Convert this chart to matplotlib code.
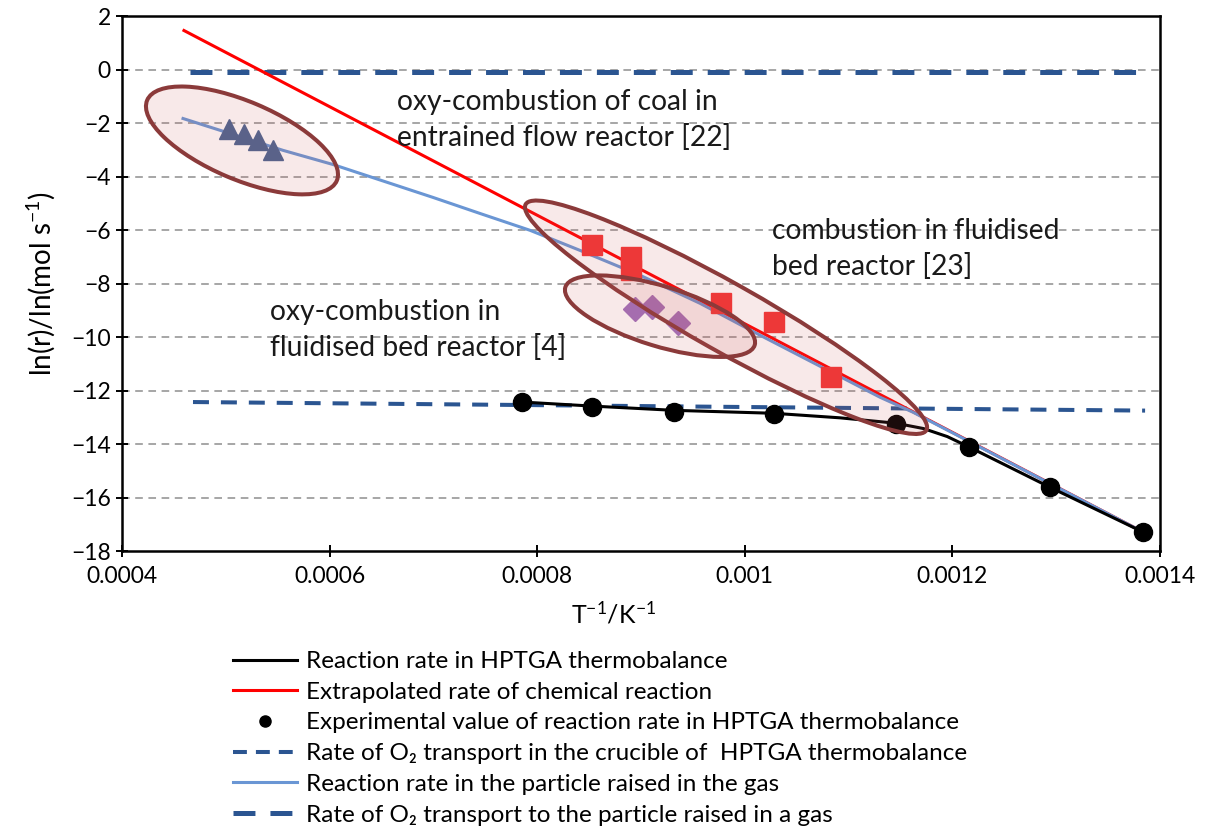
import matplotlib
matplotlib.use('Agg')
import matplotlib.pyplot as plt
from matplotlib.patches import Ellipse
from matplotlib.lines import Line2D
from matplotlib.transforms import ScaledTranslation
from matplotlib.ticker import FuncFormatter

plt.rcParams['font.family'] = ['Lato', 'DejaVu Sans']
plt.rcParams['mathtext.fontset'] = 'custom'
plt.rcParams['mathtext.rm'] = 'Lato'
plt.rcParams['mathtext.it'] = 'Lato:italic'
plt.rcParams['lines.scale_dashes'] = False

# ---------------- data ----------------
# experimental HPTGA points
exp_x = [0.0007855, 0.0008525, 0.0009318, 0.0010277, 0.0011453, 0.0012160, 0.0012937, 0.0013836]
exp_y = [-12.43, -12.62, -12.81, -12.88, -13.25, -14.11, -15.61, -17.29]

# reaction rate in HPTGA thermobalance (black curve)
tga_x = [0.0007855, 0.0008525, 0.0009318, 0.0010277, 0.0010917, 0.0011453, 0.0011720, 0.0011950, 0.0012160, 0.0012937, 0.0013836]
tga_y = [-12.43, -12.58, -12.74, -12.85, -13.02, -13.22, -13.42, -13.72, -14.11, -15.61, -17.29]

# extrapolated chemical reaction rate (red line)
chem_x = [0.0004597, 0.0013836]
chem_y = [1.46, -17.29]

# reaction rate in the particle raised in the gas (light blue)
part_x = [0.0004588, 0.0005551, 0.0006033, 0.0006996, 0.0007449, 0.0007931, 0.0008412,
          0.0008990, 0.0009569, 0.0010146, 0.0010724, 0.0011302, 0.0011620, 0.0013836]
part_y = [-1.83, -3.02, -3.55, -4.78, -5.38, -6.01, -6.76,
          -7.69, -8.74, -9.93, -11.09, -12.25, -12.81, -17.29]

# O2 transport in crucible of HPTGA (thin dashed)
cruc_x = [0.0004684, 0.0013856]
cruc_y = [-12.43, -12.75]

# O2 transport to particle raised in gas (bold dashed)
gas_x = [0.0004655, 0.0013856]
gas_y = [-0.10, -0.10]

# literature data
entr_x = [0.0005031, 0.0005175, 0.0005310, 0.0005455]
entr_y = [-2.24, -2.42, -2.65, -3.02]
fb_x = [0.0008528, 0.0008904, 0.0008904, 0.0009775, 0.0010277, 0.0010831]
fb_y = [-6.57, -7.02, -7.50, -8.74, -9.45, -11.50]
oxyfb_x = [0.0008942, 0.0009106, 0.0009356]
oxyfb_y = [-8.96, -8.88, -9.48]

x_ticks = [0.0004, 0.0006, 0.0008, 0.0010, 0.0012, 0.0014]
y_ticks = list(range(-18, 3, 2))

legend_labels = [
    'Reaction rate in HPTGA thermobalance',
    'Extrapolated rate of chemical reaction',
    'Experimental value of reaction rate in HPTGA thermobalance',
    'Rate of O\u2082 transport in the crucible of  HPTGA thermobalance',
    'Reaction rate in the particle raised in the gas',
    'Rate of O\u2082 transport to the particle raised in a gas',
]

# ---------------- style ----------------
C_DARK = '#2B5591'
C_LBLUE = '#6A96D4'
C_ELL_EDGE = '#8B3A3A'
C_ELL_FACE = (0.80, 0.35, 0.35, 0.13)

fig = plt.figure(figsize=(12.09, 8.32), dpi=100)
ax = fig.add_axes([0.1009, 0.3377, 0.8586, 0.6430])

ax.set_xlim(0.0004, 0.0014)
ax.set_ylim(-18, 2)

ax.set_yticks(y_ticks)
ax.set_xticks(x_ticks)
ax.xaxis.set_major_formatter(FuncFormatter(lambda v, p: '%g' % round(v, 6)))
ax.yaxis.set_major_formatter(FuncFormatter(lambda v, p: ('%d' % v).replace('-', '\u2212')))

for yv in y_ticks[1:-1]:
    ax.axhline(yv, color='#A6A6A6', lw=1.4, dashes=(5.5, 4.0), zorder=0)

ax.plot(gas_x, gas_y, color=C_DARK, lw=3.6, dashes=(15.8, 10.8), zorder=2)
ax.plot(cruc_x, cruc_y, color=C_DARK, lw=2.9, dashes=(11.5, 8.6), zorder=2)
ax.plot(chem_x, chem_y, color='#FF0000', lw=2.2, zorder=3)
ax.plot(part_x, part_y, color=C_LBLUE, lw=2.2, zorder=3)
ax.plot(tga_x, tga_y, color='black', lw=2.2, zorder=3)
ax.plot(exp_x, exp_y, 'o', color='black', ms=13, zorder=4)
ax.plot(entr_x, entr_y, '^', color='#4A6491', ms=14, zorder=4)
ax.plot(fb_x, fb_y, 's', color='#F23434', ms=14, zorder=4)
ax.plot(oxyfb_x, oxyfb_y, 'D', color='#A070BC', ms=12, zorder=4)


def add_ellipse(cx, cy, w_px, h_px, ang):
    tr = fig.dpi_scale_trans + ScaledTranslation(cx, cy, ax.transData)
    e = Ellipse((0, 0), w_px / 100.0, h_px / 100.0, angle=ang, transform=tr,
                facecolor=C_ELL_FACE, edgecolor=C_ELL_EDGE, lw=2.9, zorder=5)
    ax.add_artist(e)


add_ellipse(0.0005156, -2.65, 206, 78, -23)
add_ellipse(0.0009819, -9.26, 460, 68, -29.4)
add_ellipse(0.0009183, -9.22, 198, 60, -17)

txt_kw = dict(fontsize=20.3, color='#1a1a1a', ha='left', va='center', linespacing=1.42, zorder=6)
ax.text(0.000665, -1.88, 'oxy-combustion of coal in\nentrained flow reactor [22]', **txt_kw)
ax.text(0.0010262, -6.70, 'combustion in fluidised\nbed reactor [23]', **txt_kw)
ax.text(0.0005426, -9.74, 'oxy-combustion in\nfluidised bed reactor [4]', **txt_kw)

ax.tick_params(axis='both', which='major', direction='inout', length=9, width=1.4,
               labelsize=16.5, colors='black')
ax.tick_params(axis='x', pad=6)
for s in ax.spines.values():
    s.set_linewidth(1.8)
    s.set_color('black')

ax.set_ylabel('ln(r)/ln(mol s$^{\u22121}$)', fontsize=20, labelpad=10)
fig.text(614 / 1209, 1 - 614 / 832, 'T$^{\u22121}$/K$^{\u22121}$', fontsize=18,
         ha='center', va='center')

handles = [
    Line2D([], [], color='black', lw=2.2),
    Line2D([], [], color='#FF0000', lw=2.2),
    Line2D([], [], color='black', marker='o', ls='none', ms=8),
    Line2D([], [], color=C_DARK, lw=2.9, dashes=(10, 6.5)),
    Line2D([], [], color=C_LBLUE, lw=2.2),
    Line2D([], [], color=C_DARK, lw=3.6, dashes=(15.8, 10.8)),
]
fig.legend(handles, legend_labels, loc='upper left', bbox_to_anchor=(233 / 1209, 1 - 651 / 832),
           frameon=False, fontsize=17.5, handlelength=2.65, handletextpad=0.35,
           labelspacing=0.40, borderpad=0, borderaxespad=0)

fig.savefig('out.png', dpi=100)
